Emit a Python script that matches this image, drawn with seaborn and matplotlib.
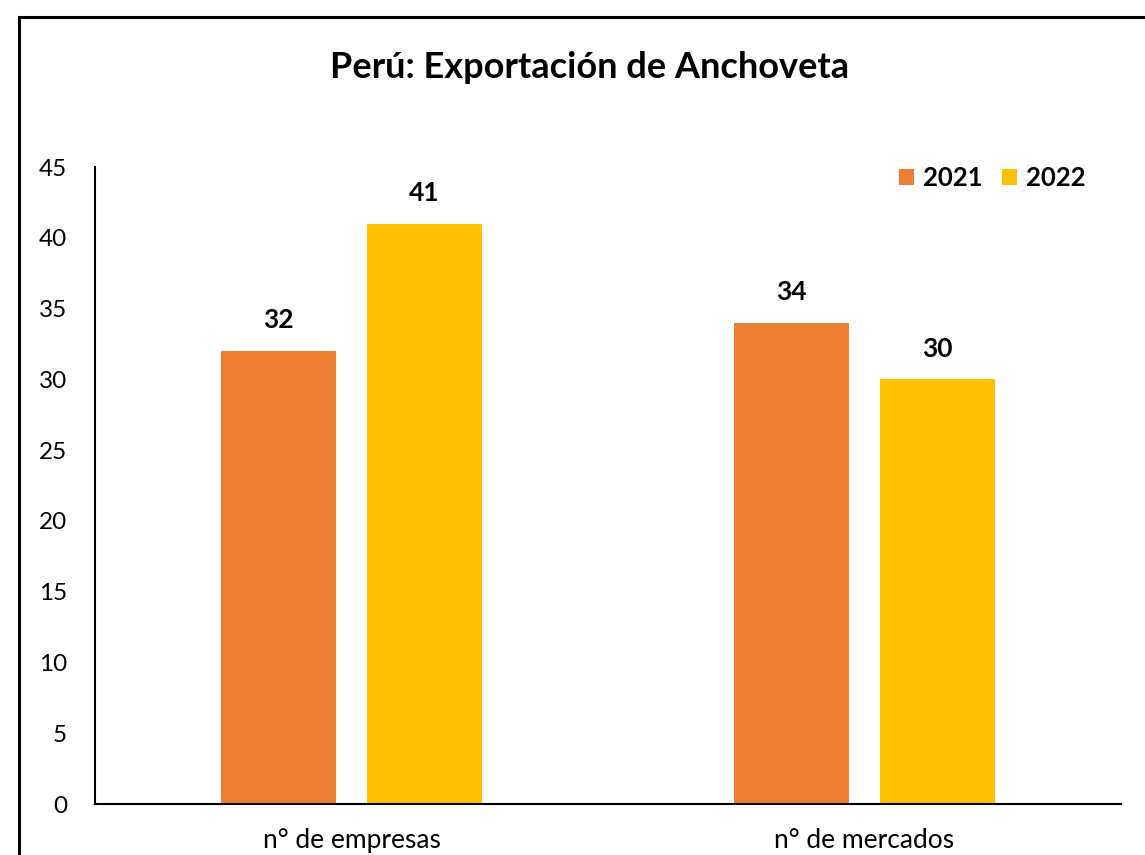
import matplotlib.pyplot as plt
import pandas as pd
import seaborn as sns
from matplotlib.patches import Rectangle

# values
categories = ["n° de empresas", "n° de mercados"]
years = ["2021", "2022"]
values_2021 = [32, 34]
values_2022 = [41, 30]
colors = ["#ED7D31", "#FFC000"]
yticks = list(range(0, 50, 5))

df = pd.DataFrame({
    "categoria": categories * 2,
    "anio": [years[0]] * 2 + [years[1]] * 2,
    "valor": values_2021 + values_2022,
})

sns.set_style("white")
plt.rcParams["font.family"] = ["Lato", "DejaVu Sans"]
plt.rcParams["text.color"] = "black"
plt.rcParams["xtick.color"] = "black"
plt.rcParams["ytick.color"] = "black"

fig = plt.figure(figsize=(11.45, 8.55), dpi=100)
W, H = 1145, 855
ax = fig.add_axes([95 / W, 1 - 804 / H, (1121 - 95) / W, (804 - 167) / H])

sns.barplot(
    data=df, x="categoria", y="valor", hue="anio",
    palette=colors, width=0.569, gap=0.212, ax=ax,
    saturation=1, linewidth=0, errorbar=None,
)

ax.set_xlim(-0.5, 1.5)
ax.set_ylim(0, 45)
ax.set_yticks(yticks)
ax.set_xlabel("")
ax.set_ylabel("")
ax.tick_params(axis="y", length=0, pad=20, labelsize=17.5)
ax.tick_params(axis="x", length=0, pad=17, labelsize=19)

for side in ["top", "right"]:
    ax.spines[side].set_visible(False)
for side in ["left", "bottom"]:
    ax.spines[side].set_color("black")
    ax.spines[side].set_linewidth(1.5)

for cont in ax.containers:
    for bar in cont:
        h = bar.get_height()
        ax.annotate(f"{h:.0f}", (bar.get_x() + bar.get_width() / 2, h),
                    xytext=(0, 22), textcoords="offset points",
                    ha="center", va="center", fontsize=19, fontweight="bold")

ax.legend(loc="center right", bbox_to_anchor=(0.965, 0.983), ncol=2, frameon=False,
          borderaxespad=0, borderpad=0,
          handlelength=0.58, handleheight=0.58, handletextpad=0.35,
          columnspacing=0.75, prop={"size": 18.5, "weight": "bold"})

fig.text(590 / W, 1 - 67 / H, "Perú: Exportación de Anchoveta",
         ha="center", va="center", fontsize=26, fontweight="bold")

# chart frame, cut off at right and bottom as in the source
fig.patches.append(Rectangle((19 / W, -0.1), 1.2, 1 - 17 / H + 0.1,
                             transform=fig.transFigure, fill=False,
                             edgecolor="black", linewidth=2.2))

fig.savefig("out.png", dpi=100)
